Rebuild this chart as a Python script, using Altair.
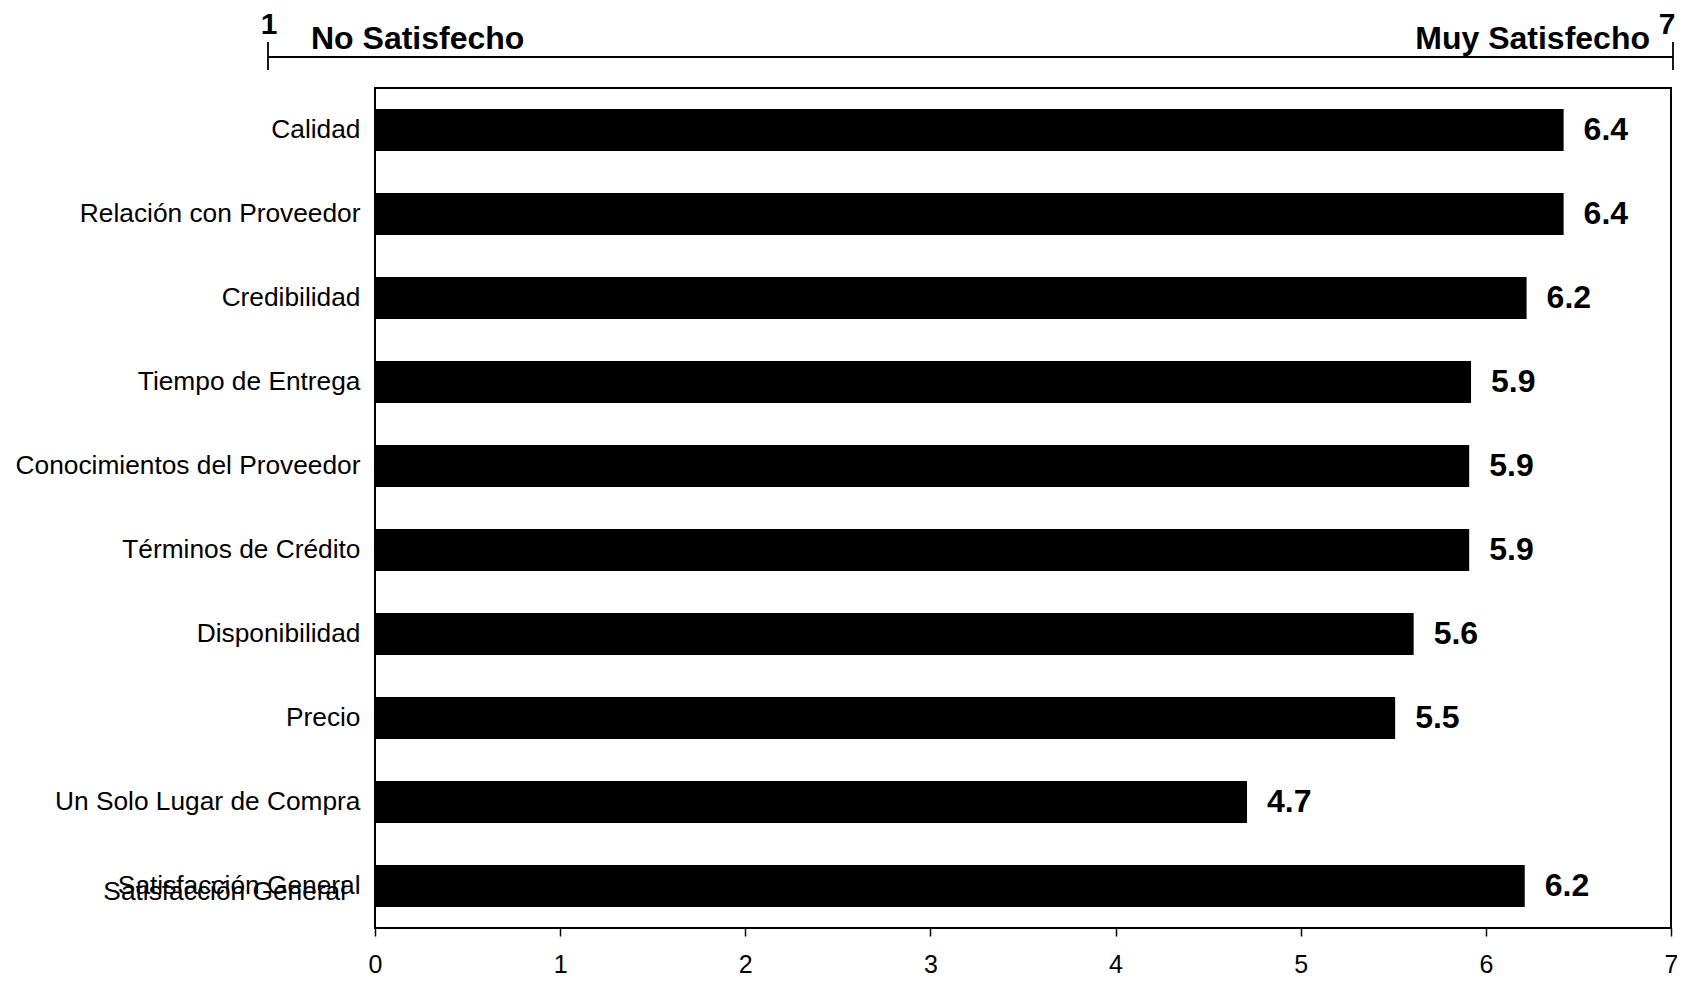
import altair as alt
import pandas as pd

categories = [
    "Calidad",
    "Relación con Proveedor",
    "Credibilidad",
    "Tiempo de Entrega",
    "Conocimientos del Proveedor",
    "Términos de Crédito",
    "Disponibilidad",
    "Precio",
    "Un Solo Lugar de Compra",
    "Satisfacción General",
]
values = [6.42, 6.42, 6.22, 5.92, 5.91, 5.91, 5.61, 5.51, 4.71, 6.21]
value_labels = ["6.4", "6.4", "6.2", "5.9", "5.9", "5.9", "5.6", "5.5", "4.7", "6.2"]
x_ticks = [0, 1, 2, 3, 4, 5, 6, 7]
header_left = "No Satisfecho"
header_right = "Muy Satisfecho"
scale_low = "1"
scale_high = "7"
ghost_label = "Satisfacción General"

df = pd.DataFrame({"cat": categories, "val": values, "lab": value_labels})

FONT = "Liberation Sans"
W, H = 1296, 840

x_enc = alt.X("val:Q", scale=alt.Scale(domain=[0, 7], nice=False, zero=True),
              axis=alt.Axis(values=x_ticks, title=None, grid=False, domain=False,
                            ticks=True, tickSize=8, tickColor="black", tickWidth=1.5,
                            labelFontSize=25, labelFont=FONT, labelColor="black",
                            labelPadding=16, labelFlush=False, format="d"))
y_enc = alt.Y("cat:N", sort=categories,
              scale=alt.Scale(paddingInner=0.5, paddingOuter=0.25),
              axis=alt.Axis(title=None, ticks=False, domain=False,
                            labelFontSize=26.3, labelFont=FONT, labelColor="black",
                            labelPadding=15, labelLimit=600))

bars = alt.Chart(df).mark_bar(color="black").encode(x=x_enc, y=y_enc)

labels = alt.Chart(df).mark_text(align="left", baseline="middle", dx=20,
                                 font=FONT, fontSize=32, fontWeight="bold",
                                 color="black").encode(
    x="val:Q", y=alt.Y("cat:N", sort=categories), text="lab:N")

ghost = alt.Chart(pd.DataFrame({"cat": [ghost_label]})).mark_text(
    align="right", baseline="middle", dy=6, font=FONT, fontSize=26.3,
    color="black").encode(x=alt.value(-29), y=alt.Y("cat:N", sort=categories),
                          text="cat:N")

one = pd.DataFrame({"t": [0]})
hdr_line = alt.Chart(one).mark_rule(color="black", strokeWidth=1.8).encode(
    x=alt.value(-107), x2=alt.value(1298), y=alt.value(-31))
hdr_tick_l = alt.Chart(one).mark_rule(color="black", strokeWidth=1.8).encode(
    x=alt.value(-107), y=alt.value(-46), y2=alt.value(-18))
hdr_tick_r = alt.Chart(one).mark_rule(color="black", strokeWidth=1.8).encode(
    x=alt.value(1298), y=alt.value(-46), y2=alt.value(-18))

def hdr_text(txt, x, y, align, baseline="alphabetic", size=32):
    return alt.Chart(pd.DataFrame({"t": [txt]})).mark_text(
        align=align, baseline=baseline, font=FONT, fontSize=size,
        fontWeight="bold", color="black").encode(
        x=alt.value(x), y=alt.value(y), text="t:N")

t_left = hdr_text(header_left, -64, -39, "left")
t_right = hdr_text(header_right, 1275, -39, "right")
t_low = hdr_text(scale_low, -106, -63, "center", "middle", 30)
t_high = hdr_text(scale_high, 1292, -63, "center", "middle", 30)

chart = alt.layer(bars, labels, ghost, hdr_line, hdr_tick_l, hdr_tick_r,
                  t_left, t_right, t_low, t_high).properties(
    width=W, height=H,
    autosize=alt.AutoSizeParams(type="none"),
    padding={"left": 367, "top": 80, "right": 6, "bottom": 49},
).configure(
    background="white",
    view=alt.ViewConfig(stroke="black", strokeWidth=2),
)

chart.save("out.html", embed_options={"renderer": "svg", "actions": False})
